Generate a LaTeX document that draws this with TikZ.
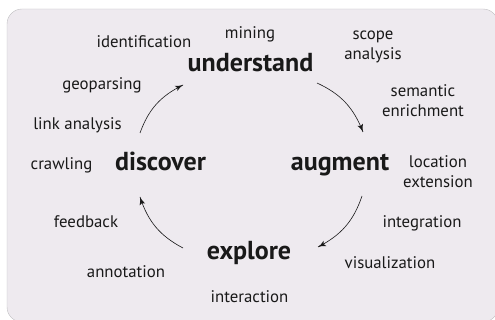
\documentclass[tikz,border=0pt]{standalone}
\usepackage{fontspec}
\setmainfont{PT Sans}
\usepackage{tikz}
\usetikzlibrary{arrows}
\usetikzlibrary{decorations.markings}
\tikzset{cyc/.style = {decoration={markings,
                                   mark=at position 1 with {\arrow[scale=1.7]{latex'}}},
                       postaction={decorate}}}
\tikzset{word/.style = {anchor = base, inner sep = 0, text = txt,
                        font = \fontsize{16.8}{20.5}\selectfont, align = center}}
\tikzset{stage/.style = {anchor = base, inner sep = 0, text = txt,
                         font = \fontsize{26}{30}\selectfont\bfseries}}
\definecolor{bgfill}{RGB}{238, 234, 239}
\definecolor{bgline}{RGB}{190, 190, 192}
\definecolor{txt}{RGB}{25, 25, 25}

\begin{document}
\begin{tikzpicture}[x=1pt, y=-1pt]
    \useasboundingbox (0, 0) rectangle (495, 320);
    \draw [bgline, fill=bgfill, rounded corners=15] (7, 9) rectangle (498, 322);

    \node [stage] (understand) at (250.5, 72) {understand};
    \node [stage] (augment) at (340, 171) {augment};
    \node [stage] (explore) at (249, 260) {explore};
    \node [stage] (discover) at (160.5, 171) {discover};

    % two-line nodes sit on the baseline of their last line
    \node [word] (identification) at (144, 48) {identification};
    \node [word] (mining) at (250, 39) {mining};
    \node [word] (scope) at (373, 60) {scope\\analysis};
    \node [word] (semantic) at (423, 117) {semantic\\enrichment};
    \node [word] (geoparsing) at (102, 90) {geoparsing};
    \node [word] (link) at (77.5, 130) {link analysis};
    \node [word] (crawling) at (61.5, 170) {crawling};
    \node [word] (location) at (438, 188) {location\\extension};
    \node [word] (feedback) at (86, 228) {feedback};
    \node [word] (integration) at (422, 228) {integration};
    \node [word] (visualization) at (390, 269) {visualization};
    \node [word] (annotation) at (126, 277) {annotation};
    \node [word] (interaction) at (249.5, 302) {interaction};

    \draw [cyc, txt, semithick] ([shift={(-20.5, -38)}]discover.base)
        to [bend left=22] ([shift={(-67.5, 13)}]understand.base);
    \draw [cyc, txt, semithick] ([shift={(66.5, 11)}]understand.base)
        to [bend left=22] ([shift={(23, -39)}]augment.base);
    \draw [cyc, txt, semithick] ([shift={(22, 25)}]augment.base)
        to [bend left=22] ([shift={(69, -13)}]explore.base);
    \draw [cyc, txt, semithick] ([shift={(-66, -12)}]explore.base)
        to [bend left=22] ([shift={(-20.5, 26)}]discover.base);
  \end{tikzpicture}
\end{document}
